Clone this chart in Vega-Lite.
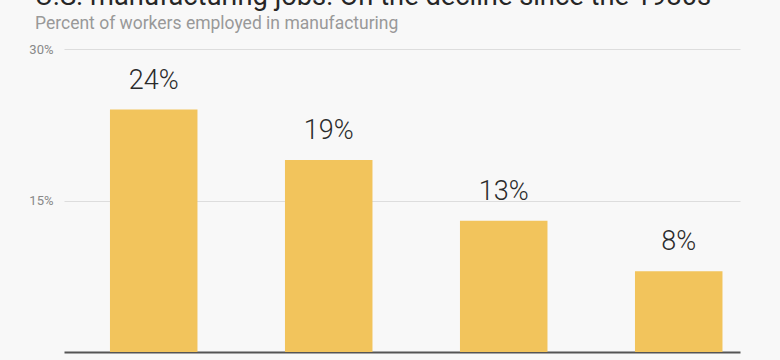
{
  "$schema": "https://vega.github.io/schema/vega-lite/v6.json",
  "width": 676,
  "height": 303,
  "autosize": {"type": "none"},
  "padding": {"left": 64, "top": 49, "right": 40, "bottom": 8},
  "background": "#f8f8f8",
  "title": {
    "text": "U.S. manufacturing jobs: On the decline since the 1980s",
    "subtitle": "Percent of workers employed in manufacturing",
    "anchor": "start",
    "frame": "group",
    "dx": -29,
    "offset": 10,
    "font": "Roboto",
    "fontSize": 27.3,
    "fontWeight": 400,
    "color": "#262626",
    "subtitleFont": "Roboto",
    "subtitleFontSize": 17.5,
    "subtitleColor": "#999999",
    "subtitlePadding": 5
  },
  "config": {
    "view": {"stroke": null},
    "font": "Roboto"
  },
  "data": {
    "values": [
      {"decade": "1980s", "pct": 24, "label": "24%"},
      {"decade": "1990s", "pct": 19, "label": "19%"},
      {"decade": "2000s", "pct": 13, "label": "13%"},
      {"decade": "2010s", "pct": 8, "label": "8%"}
    ]
  },
  "encoding": {
    "x": {
      "field": "decade",
      "type": "nominal",
      "sort": null,
      "scale": {"paddingInner": 0.5, "paddingOuter": 0.1814, "align": 0.724},
      "axis": {
        "title": null,
        "labels": false,
        "ticks": false,
        "grid": false,
        "domain": true,
        "domainColor": "#555555",
        "domainWidth": 2
      }
    },
    "y": {
      "field": "pct",
      "type": "quantitative",
      "scale": {"domain": [0, 30], "nice": false},
      "axis": {
        "title": null,
        "values": [15, 30],
        "labelExpr": "datum.value + '%'",
        "domain": false,
        "ticks": false,
        "labelPadding": 11,
        "labelColor": "#888888",
        "labelFontSize": 13,
        "labelFont": "Roboto",
        "gridColor": "#dddddd",
        "gridWidth": 1
      }
    }
  },
  "layer": [
    {"mark": {"type": "bar", "color": "#f2c45c"}},
    {
      "mark": {
        "type": "text",
        "baseline": "alphabetic",
        "dy": -21,
        "fontSize": 27,
        "font": "Roboto",
        "fontWeight": 300,
        "color": "#2b2b2b"
      },
      "encoding": {"text": {"field": "label"}}
    }
  ]
}
